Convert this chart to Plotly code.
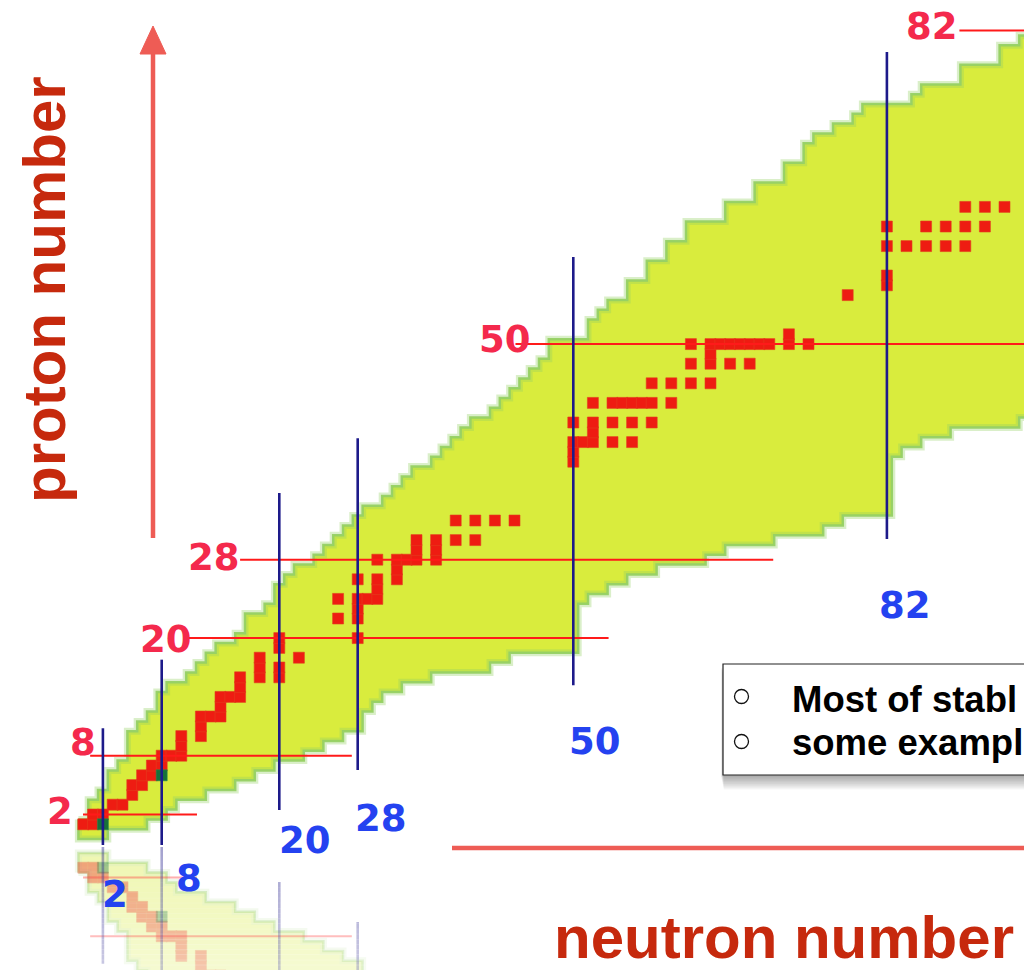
import plotly.graph_objects as go

# ---------------------------------------------------------------------------
# page / axis geometry (one nucleon = 9.8 px on both axes)
# ---------------------------------------------------------------------------
W, H = 1024, 970
PX_PER_UNIT = 9.8
N_LEFT = -8.5           # neutron number at the left page edge
Z_TOP = 85.112          # proton number at the top page edge
N_RANGE = [N_LEFT, N_LEFT + W / PX_PER_UNIT]
Z_RANGE = [Z_TOP - H / PX_PER_UNIT, Z_TOP]
Z_MIRROR = -1.214       # reflection plane under the chart

# ---------------------------------------------------------------------------
# data
# ---------------------------------------------------------------------------
magic = [2, 8, 20, 28, 50, 82]

# extent of each magic line (proton lines along N, neutron lines along Z)
proton_line_n = [(-0.03, 11.6), (0.7, 27.4), (10.7, 53.6), (16.0, 70.4), (44.1, 97.0), (89.4, 97.0)]
neutron_line_z = [(-1.11, 10.8), (-1.11, 17.8), (2.46, 34.8), (6.54, 40.4), (15.2, 58.9), (30.1, 79.8)]

# known nuclides: for every neutron number, highest and lowest proton number
band_n = list(range(0, 97))
band_zmax = [1, 3, 4, 6, 7, 10, 11, 12, 14, 15, 15, 16, 17, 18, 19, 19, 20, 22, 22, 23,
             25, 26, 27, 27, 28, 29, 30, 31, 32, 33, 33, 34, 35, 36, 37, 37, 38, 39, 40, 41,
             42, 42, 43, 44, 45, 46, 47, 48, 50, 50, 50, 50, 52, 53, 54, 54, 56, 56, 58, 58,
             60, 60, 62, 62, 62, 62, 64, 64, 64, 66, 66, 66, 68, 68, 70, 71, 71, 72, 72, 73,
             74, 74, 74, 74, 74, 75, 76, 76, 76, 76, 78, 78, 78, 78, 80, 80, 81]
band_zmin = [0, 0, 0, 1, 1, 1, 1, 2, 2, 3, 4, 4, 4, 5, 5, 5, 6, 6, 7, 7,
             8, 8, 8, 9, 9, 10, 10, 11, 11, 13, 14, 15, 15, 16, 16, 16, 17, 17, 17, 17,
             17, 17, 18, 18, 19, 19, 19, 19, 19, 19, 19, 24, 25, 25, 26, 26, 27, 27, 27, 28,
             28, 28, 28, 28, 29, 29, 30, 30, 30, 30, 30, 31, 31, 31, 31, 31, 32, 32, 33, 33,
             33, 33, 33, 39, 40, 40, 41, 41, 41, 42, 42, 42, 42, 42, 42, 42, 43]

# stable nuclides (N, Z), listed row by row
stable_n = [0, 1, 1, 2, 3, 4, 5, 5, 6, 6, 7, 7, 8, 8, 9, 10, 10, 10, 12, 12,
            12, 13, 14, 14, 14, 15, 16, 16, 16, 18, 20, 18, 20, 18, 22, 20, 20, 28,
            26, 28, 28, 26, 28, 29, 30, 30, 28, 30, 32, 32, 30, 32, 33, 34, 36, 34, 36,
            34, 36, 38, 40, 38, 40, 42, 44,
            50, 50, 50, 51, 52, 54, 56, 52, 50, 52, 54, 56, 58,
            52, 54, 55, 56, 57, 58, 60, 58, 60, 62, 64, 62, 64, 66, 68, 64,
            62, 64, 65, 66, 67, 68, 69, 70, 72, 74, 72,
            78, 82, 82, 82, 84, 86, 88, 90, 82, 86, 88, 90, 92, 90, 92, 94]
stable_z = [1, 1, 2, 2, 3, 3, 4, 5, 5, 6, 6, 7, 7, 8, 8, 8, 9, 10, 10, 11,
            12, 12, 12, 13, 14, 14, 14, 15, 16, 16, 16, 17, 17, 18, 18, 19, 20, 20,
            22, 22, 23, 24, 24, 24, 24, 25, 26, 26, 26, 27, 28, 28, 28, 28, 28, 29, 29,
            30, 30, 30, 30, 32, 32, 32, 32,
            38, 39, 40, 40, 40, 40, 40, 41, 42, 42, 42, 42, 42,
            44, 44, 44, 44, 44, 44, 44, 46, 46, 46, 46, 48, 48, 48, 48, 49,
            50, 50, 50, 50, 50, 50, 50, 50, 50, 50, 51,
            55, 56, 57, 60, 60, 60, 60, 60, 62, 62, 62, 62, 62, 64, 64, 64]

# long-lived radioactive nuclides (tritium, carbon-14)
longlived_n = [2, 8]
longlived_z = [1, 6]

# label anchor points (N, Z) for the magic numbers
proton_label_at = [(-2.4, 2.3), (0.0, 9.3), (8.4, 19.9), (13.3, 28.2), (43.0, 50.5), (86.6, 82.4)]
neutron_label_at = [(3.2, -6.2), (10.8, -4.5), (22.6, -0.7), (30.4, 1.6), (52.2, 9.4), (83.8, 23.3)]

legend_lines = ["Most of stabl", "some exampl"]

# ---------------------------------------------------------------------------
# styles
# ---------------------------------------------------------------------------
BAND_FILL = "#D9EC3D"
BAND_EDGE = "rgba(150,208,100,0.95)"
BAND_HALO = "rgba(150,208,100,0.35)"
STABLE_RED = "#EE1C12"
LONGLIVED_GREEN = "#17713A"
PROTON_LINE = "#FF1A1A"
NEUTRON_LINE = "#1D1A8A"
PROTON_LABEL = "#F4294C"
NEUTRON_LABEL = "#2442F0"
TITLE_RED = "#C6290D"
ARROW_RED = "#EE5C55"
DIGIT_FONT = "DejaVu Sans"
TEXT_FONT = "Liberation Sans"


def paper(px, py):
    """page pixel -> paper coordinates"""
    return px / W, 1 - py / H


def band_polygon():
    xs, ys = [], []
    for n, top in zip(band_n, band_zmax):
        xs += [n - 0.5, n + 0.5]
        ys += [top + 0.5, top + 0.5]
    for n, bot in zip(reversed(band_n), reversed(band_zmin)):
        xs += [n + 0.5, n - 0.5]
        ys += [bot - 0.5, bot - 0.5]
    xs.append(xs[0])
    ys.append(ys[0])
    return xs, ys


def chart_traces(zmap, alpha):
    """the nuclide chart itself; zmap maps proton numbers (used for the reflection)"""
    out = []
    bx, by = band_polygon()
    by = [zmap(z) for z in by]
    out.append(go.Scatter(x=bx, y=by, mode="lines", fill="toself", fillcolor=BAND_FILL,
                          line=dict(color=BAND_HALO, width=7), opacity=alpha,
                          hoverinfo="skip", showlegend=False))
    out.append(go.Scatter(x=bx, y=by, mode="lines",
                          line=dict(color=BAND_EDGE, width=2.5), opacity=alpha,
                          hoverinfo="skip", showlegend=False))
    out.append(go.Scatter(x=stable_n, y=[zmap(z) for z in stable_z], mode="markers",
                          marker=dict(symbol="square", size=11, color=STABLE_RED,
                                      line=dict(color="#E2401E", width=0.6)),
                          opacity=alpha, hoverinfo="skip", showlegend=False))
    out.append(go.Scatter(x=longlived_n, y=[zmap(z) for z in longlived_z], mode="markers",
                          marker=dict(symbol="square", size=11, color=LONGLIVED_GREEN,
                                      line=dict(color="#2E8A4A", width=0.6)),
                          opacity=alpha, hoverinfo="skip", showlegend=False))
    px_, py_ = [], []
    for m, (n0, n1) in zip(magic, proton_line_n):
        px_ += [n0, n1, None]
        py_ += [zmap(m), zmap(m), None]
    out.append(go.Scatter(x=px_, y=py_, mode="lines", line=dict(color=PROTON_LINE, width=2),
                          opacity=alpha, hoverinfo="skip", showlegend=False))
    nx_, ny_ = [], []
    for m, (z0, z1) in zip(magic, neutron_line_z):
        nx_ += [m, m, None]
        ny_ += [zmap(z0), zmap(z1), None]
    out.append(go.Scatter(x=nx_, y=ny_, mode="lines", line=dict(color=NEUTRON_LINE, width=2.6),
                          opacity=alpha, hoverinfo="skip", showlegend=False))
    return out


fig = go.Figure()
for tr in chart_traces(lambda z: z, 1.0):
    fig.add_trace(tr)
for tr in chart_traces(lambda z: 2 * Z_MIRROR - z, 0.4):
    fig.add_trace(tr)

shapes = []
# the reflection fades out towards the bottom of the page
y_start = 846
steps = 24
for i in range(steps):
    ya = y_start + (H - y_start) * i / steps
    yb = y_start + (H - y_start) * (i + 1) / steps + 0.5
    x0, y0 = paper(0, yb)
    x1, y1 = paper(W, ya)
    shapes.append(dict(type="rect", xref="paper", yref="paper", x0=x0, x1=x1, y0=y0, y1=y1,
                       fillcolor=f"rgba(255,255,255,{0.42 * (i + 0.5) / steps:.3f})",
                       line=dict(width=0), layer="above"))

# axis arrows
ax0, ay0 = paper(153, 538)
ax1, ay1 = paper(153, 48)
shapes.append(dict(type="line", xref="paper", yref="paper", x0=ax0, y0=ay0, x1=ax1, y1=ay1,
                   line=dict(color=ARROW_RED, width=4.5), layer="above"))
tip = [paper(153, 26), paper(140, 54), paper(166, 54)]
path = "M {} {} L {} {} L {} {} Z".format(tip[0][0], tip[0][1], tip[1][0], tip[1][1], tip[2][0], tip[2][1])
shapes.append(dict(type="path", xref="paper", yref="paper", path=path,
                   fillcolor=ARROW_RED, line=dict(color=ARROW_RED, width=1), layer="above"))
hx0, hy0 = paper(452, 848)
hx1, hy1 = paper(W + 5, 848)
shapes.append(dict(type="line", xref="paper", yref="paper", x0=hx0, y0=hy0, x1=hx1, y1=hy1,
                   line=dict(color=ARROW_RED, width=4.5), layer="above"))

# note box with soft shadow
for i in range(10):
    sx0, sy0 = paper(721 + i * 0.3, 777 + i * 1.4)
    sx1, sy1 = paper(W + 10, 668 + i)
    shapes.append(dict(type="rect", xref="paper", yref="paper", x0=sx0, x1=sx1, y0=sy0, y1=sy1,
                       fillcolor="rgba(0,0,0,0.035)", line=dict(width=0), layer="above"))
bx0, by0 = paper(723, 775)
bx1, by1 = paper(W + 10, 664)
shapes.append(dict(type="rect", xref="paper", yref="paper", x0=bx0, x1=bx1, y0=by0, y1=by1,
                   fillcolor="white", line=dict(color="#222222", width=1.2), layer="above"))
for cy in (696.5, 741.5):
    cx0, cy0 = paper(734.5, cy + 7)
    cx1, cy1 = paper(748.5, cy - 7)
    shapes.append(dict(type="circle", xref="paper", yref="paper", x0=cx0, x1=cx1, y0=cy0, y1=cy1,
                       line=dict(color="#111111", width=1.3), layer="above"))

annotations = []
for m, (ln, lz) in zip(magic, proton_label_at):
    annotations.append(dict(x=ln, y=lz, xref="x", yref="y", text=f"<b>{m}</b>", showarrow=False,
                            font=dict(family=DIGIT_FONT, size=37, color=PROTON_LABEL),
                            xanchor="center", yanchor="middle"))
for m, (ln, lz) in zip(magic, neutron_label_at):
    annotations.append(dict(x=ln, y=lz, xref="x", yref="y", text=f"<b>{m}</b>", showarrow=False,
                            font=dict(family=DIGIT_FONT, size=37, color=NEUTRON_LABEL),
                            xanchor="center", yanchor="middle"))

tx, ty = paper(44, 290)
annotations.append(dict(x=tx, y=ty, xref="paper", yref="paper", text="<b>proton number</b>",
                        showarrow=False, textangle=-90,
                        font=dict(family=TEXT_FONT, size=60, color=TITLE_RED),
                        xanchor="center", yanchor="middle"))
tx, ty = paper(552, 937)
annotations.append(dict(x=tx, y=ty, xref="paper", yref="paper", text="<b>neutron number</b>",
                        showarrow=False, font=dict(family=TEXT_FONT, size=60, color=TITLE_RED),
                        xanchor="left", yanchor="middle"))
for line, cy in zip(legend_lines, (699, 742)):
    tx, ty = paper(790, cy)
    annotations.append(dict(x=tx, y=ty, xref="paper", yref="paper", text=f"<b>{line}</b>",
                            showarrow=False, font=dict(family=TEXT_FONT, size=36.5, color="#000000"),
                            xanchor="left", yanchor="middle"))

fig.update_layout(
    width=W, height=H, autosize=False,
    margin=dict(l=0, r=0, t=0, b=0, pad=0),
    paper_bgcolor="white", plot_bgcolor="white",
    xaxis=dict(range=N_RANGE, visible=False, fixedrange=True),
    yaxis=dict(range=Z_RANGE, visible=False, fixedrange=True),
    shapes=shapes, annotations=annotations, showlegend=False,
)
fig.write_html("out.html")
